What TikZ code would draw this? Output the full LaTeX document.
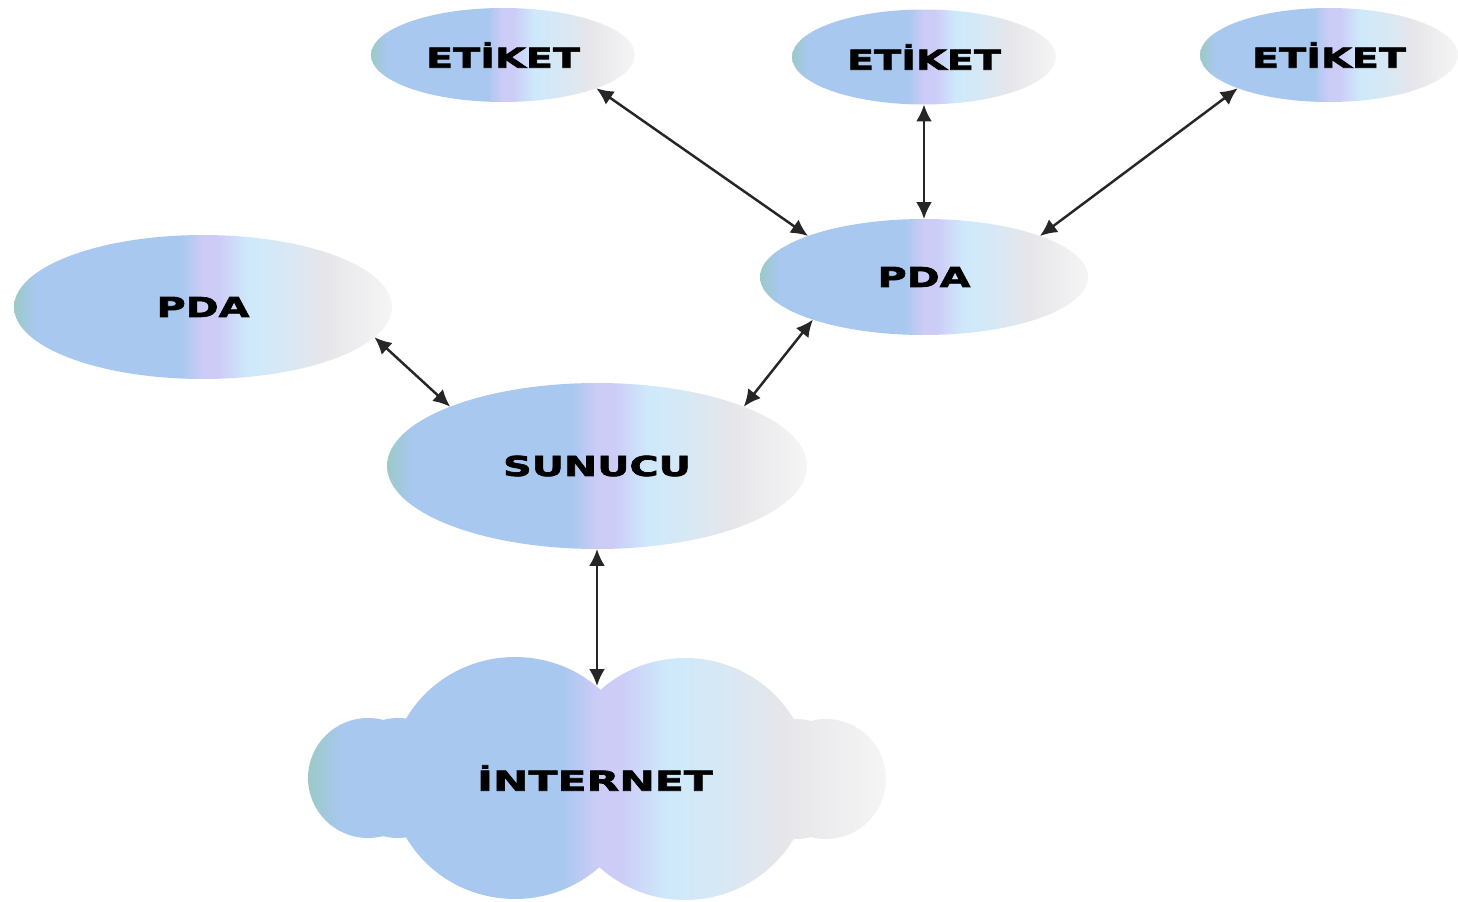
\documentclass[tikz,border=0pt]{standalone}
\usepackage{fontspec}
\newfontfamily\tagfont[FakeStretch=1.45,FakeBold=2.5]{DejaVu Sans}
\newfontfamily\cloudfont[FakeStretch=1.55,FakeBold=2.5]{DejaVu Sans}
\usetikzlibrary{shapes.geometric,arrows.meta}
\definecolor{tealedge}{HTML}{9CC9C8}
\definecolor{skyblue}{HTML}{A8C8EF}
\definecolor{lavender}{HTML}{CCCCF7}
\definecolor{icecyan}{HTML}{CEE9FB}
\definecolor{mistgray}{HTML}{E6E6EA}
\definecolor{paperwhite}{HTML}{F5F5F5}
\pgfdeclarehorizontalshading{bubblefade}{100bp}{color(0bp)=(tealedge); color(25bp)=(tealedge); color(28bp)=(skyblue); color(47bp)=(skyblue); color(50bp)=(lavender); color(52bp)=(lavender); color(56bp)=(icecyan); color(61bp)=(icecyan!60!mistgray); color(66bp)=(mistgray); color(75bp)=(paperwhite); color(100bp)=(paperwhite)}
\tikzset{
  bubble/.style={ellipse, shade, shading=bubblefade, inner sep=0pt, outer sep=0pt,
    font=\tagfont\bfseries\fontsize{15.6}{18}\selectfont},
  link/.style={{Latex[length=0.34cm,width=0.32cm]}-{Latex[length=0.34cm,width=0.32cm]},
    line width=1.4pt, black!85}
}

\begin{document}
\begin{tikzpicture}[x=0.02cm,y=-0.02cm]
			%%%%% START %%%%%
			\useasboundingbox (0,0) rectangle (1458,902);
			
			% tags
			\node[bubble, minimum width=5.28cm, minimum height=1.88cm] (etikA) at (503,55) {ETİKET};
			\node[bubble, minimum width=5.28cm, minimum height=1.9cm] (etikB) at (924,57) {ETİKET};
			\node[bubble, minimum width=5.16cm, minimum height=1.88cm] (etikC) at (1329,55) {ETİKET};
			
			% handhelds and server
			\node[bubble, minimum width=6.56cm, minimum height=2.32cm] (pdaR) at (924,277) {PDA};
			\node[bubble, minimum width=7.56cm, minimum height=2.88cm] (pdaL) at (203,307) {PDA};
			\node[bubble, minimum width=8.4cm, minimum height=3.32cm] (sunucu) at (597,466) {SUNUCU};
			
			% cloud
			\shade[shading=bubblefade]
			  (368,778) ellipse [x radius=1.2cm, y radius=1.2cm]
			  (398,778) ellipse [x radius=1.2cm, y radius=1.2cm]
			  (515,778) ellipse [x radius=2.5cm, y radius=2.42cm]
			  (685,779) ellipse [x radius=2.5cm, y radius=2.42cm]
			  (796,779) ellipse [x radius=1.2cm, y radius=1.2cm]
			  (826,779) ellipse [x radius=1.2cm, y radius=1.2cm]
			  (597,780) ellipse [x radius=4.5cm, y radius=1.7cm];
			\node[font=\cloudfont\bfseries\fontsize{15.6}{18}\selectfont] (internet) at (595,778) {İNTERNET};
			\coordinate (cloudtop) at (597,686);
			
			% links
			\draw[link] (etikA.south east) -- (pdaR.north west);
			\draw[link] (etikB.south) -- (pdaR.north);
			\draw[link] (etikC.south west) -- (pdaR.north east);
			\draw[link] (pdaL.-10) -- (sunucu.158);
			\draw[link] (pdaR.201) -- (sunucu.22);
			\draw[link] (sunucu.south) -- (cloudtop);
			
			%%%%% END %%%%%
		\end{tikzpicture}
\end{document}
